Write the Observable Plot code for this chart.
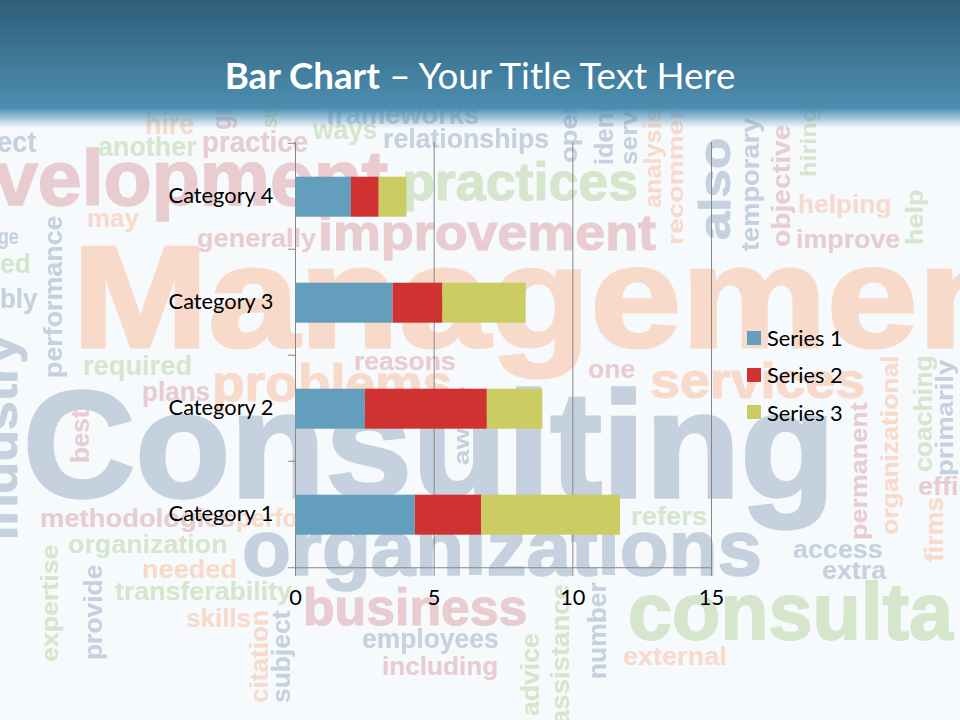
<!DOCTYPE html>
<html>
<head>
<meta charset="utf-8">
<script src="https://cdn.jsdelivr.net/npm/d3@7"></script>
<script src="https://cdn.jsdelivr.net/npm/@observablehq/plot@0.6"></script>
<style>
html,body{margin:0;padding:0;width:960px;height:720px;overflow:hidden;background:#f6fafd}
#stage{position:relative;width:960px;height:720px;overflow:hidden;font-family:Lato,sans-serif}
#cloud{position:absolute;inset:0;filter:blur(.4px)}
#cloud i{position:absolute;left:0;top:0;line-height:0;white-space:nowrap;font:normal 700 20px "Liberation Sans",sans-serif;line-height:0;
 -webkit-text-stroke:.006em currentColor;transform-origin:0 0;
 transform:translate(calc(var(--x)*1px),calc(var(--y)*1px)) rotate(var(--r,0deg)) scaleX(var(--s,1)) translateY(-.3465em)}
#cloud i.big{-webkit-text-stroke:.022em currentColor}
#cloud i.u{--r:-90deg}
.o{color:#f8dacb}.p{color:#e8ccd0}.b{color:#c5d1de}.g{color:#d5e6cc}
#head{position:absolute;left:0;top:0;width:960px;height:130px;
 background:linear-gradient(to bottom,#2f5e77 0,#4c8eb1 108px,rgba(246,250,253,0) 128px)}
#title{position:absolute;left:0;width:960px;top:51px;text-align:center;margin:0;color:#fff;font:400 36.7px/48px Lato,sans-serif}
#title b{font-weight:700}
#chart{position:absolute;left:0;top:0}
#legend{position:absolute;left:747px;top:319px;color:#000;font:21.8px/37.3px Lato,sans-serif}
#legend div{display:flex;align-items:center;height:37.3px}
#legend span{display:inline-block;width:14px;height:14px;margin-right:6px}
</style>
</head>
<body>
<div id="stage">
<div id="cloud">
<i class="big o" style="--x:72;--y:347;--w:1000;font-size:145px">Management</i>
<i class="big b" style="--x:23;--y:497;--w:812;font-size:150px">Consulting</i>
<i class="big p" style="--x:-6;--y:205;--w:394;font-size:78px">velopment</i>
<i class="big g" style="--x:402;--y:200;--w:236;font-size:54px">practices</i>
<i class="big p" style="--x:318;--y:250;--w:338;font-size:50px">improvement</i>
<i class="big b" style="--x:242;--y:575;--w:520;font-size:78px">organizations</i>
<i class="big g" style="--x:628;--y:640;--w:325;font-size:80px">consulta</i>
<i class="big p" style="--x:303;--y:625;--w:224;font-size:52px">business</i>
<i class="big o" style="--x:212;--y:401;--w:240;font-size:52px">problems</i>
<i class="big o" style="--x:650;--y:398;--w:215;font-size:50px">services</i>
<i class="b" style="--x:-3;--y:152;--w:39;font-size:30px">ect</i>
<i class="g" style="--x:98;--y:157;--w:99;font-size:28px">another</i>
<i class="o" style="--x:145;--y:134;--w:49;font-size:29px">hire</i>
<i class="p" style="--x:202;--y:152;--w:106;font-size:30px">practice</i>
<i class="g" style="--x:313;--y:140;--w:65;font-size:28px">ways</i>
<i class="b" style="--x:326;--y:125;--w:153;font-size:28px">frameworks</i>
<i class="b" style="--x:383;--y:148;--w:166;font-size:27px">relationships</i>
<i class="o" style="--x:87;--y:227;--w:52;font-size:26px">may</i>
<i class="p" style="--x:197;--y:247;--w:119;font-size:26px">generally</i>
<i class="b" style="--x:-2;--y:245;--w:21;font-size:22px">ge</i>
<i class="g" style="--x:0;--y:274;--w:31;font-size:28px">ed</i>
<i class="b" style="--x:0;--y:309;--w:37;font-size:28px">bly</i>
<i class="g" style="--x:83;--y:376;--w:109;font-size:28px">required</i>
<i class="p" style="--x:142;--y:402;--w:68;font-size:28px">plans</i>
<i class="p" style="--x:354;--y:370;--w:102;font-size:26px">reasons</i>
<i class="p" style="--x:588;--y:378;--w:47;font-size:26px">one</i>
<i class="p" style="--x:918;--y:495;--w:125;font-size:26px">efficiency</i>
<i class="b" style="--x:793;--y:558;--w:90;font-size:26px">access</i>
<i class="b" style="--x:822;--y:579;--w:64;font-size:26px">extra</i>
<i class="o" style="--x:623;--y:665;--w:104;font-size:26px">external</i>
<i class="g" style="--x:631;--y:525;--w:76;font-size:26px">refers</i>
<i class="p" style="--x:382;--y:675;--w:116;font-size:25px">including</i>
<i class="b" style="--x:362;--y:648;--w:137;font-size:27px">employees</i>
<i class="p" style="--x:40;--y:527;--w:195;font-size:25px">methodologies</i>
<i class="o" style="--x:236;--y:527;--w:62;font-size:25px">perfo</i>
<i class="g" style="--x:68;--y:553;--w:160;font-size:26px">organization</i>
<i class="o" style="--x:142;--y:578;--w:95;font-size:26px">needed</i>
<i class="g" style="--x:115;--y:600;--w:177;font-size:26px">transferability</i>
<i class="o" style="--x:186;--y:627;--w:65;font-size:26px">skills</i>
<i class="o" style="--x:798;--y:213;--w:93;font-size:26px">helping</i>
<i class="p" style="--x:796;--y:248;--w:104;font-size:25px">improve</i>
<i class="u p" style="--x:232;--y:130;--w:80;font-size:28px">growth</i>
<i class="u g" style="--x:278;--y:128;--w:70;font-size:22px">success</i>
<i class="u b" style="--x:62;--y:378;--w:163;font-size:26px">performance</i>
<i class="u b big" style="--x:18;--y:540;--w:205;font-size:48px">industry</i>
<i class="u p" style="--x:89;--y:463;--w:53;font-size:25px">best</i>
<i class="u b" style="--x:470;--y:465;--w:78;font-size:22px">aware</i>
<i class="u p" style="--x:867;--y:540;--w:138;font-size:24px">permanent</i>
<i class="u o" style="--x:898;--y:535;--w:180;font-size:24px">organizational</i>
<i class="u g" style="--x:932;--y:472;--w:117;font-size:25px">coaching</i>
<i class="u b" style="--x:953;--y:476;--w:116;font-size:23px">primarily</i>
<i class="u o" style="--x:943;--y:562;--w:65;font-size:25px">firms</i>
<i class="u b" style="--x:606;--y:679;--w:97;font-size:25px">number</i>
<i class="u g" style="--x:569;--y:725;--w:141;font-size:25px">assistance</i>
<i class="u g" style="--x:539;--y:716;--w:83;font-size:25px">advice</i>
<i class="u g" style="--x:58;--y:662;--w:117;font-size:24px">expertise</i>
<i class="u b" style="--x:102;--y:660;--w:95;font-size:25px">provide</i>
<i class="u o" style="--x:268;--y:703;--w:93;font-size:25px">citation</i>
<i class="u b" style="--x:290;--y:703;--w:93;font-size:25px">subject</i>
<i class="u b" style="--x:577;--y:163;--w:65;font-size:24px">open</i>
<i class="u b" style="--x:613;--y:165;--w:90;font-size:26px">identify</i>
<i class="u b" style="--x:637;--y:165;--w:105;font-size:24px">services</i>
<i class="u o" style="--x:661;--y:208;--w:100;font-size:24px">analysis</i>
<i class="u o" style="--x:684;--y:245;--w:160;font-size:22px">recommend</i>
<i class="u b big" style="--x:730;--y:240;--w:102;font-size:44px">also</i>
<i class="u b" style="--x:759;--y:251;--w:133;font-size:25px">temporary</i>
<i class="u p" style="--x:790;--y:247;--w:122;font-size:25px">objective</i>
<i class="u g" style="--x:817;--y:177;--w:70;font-size:22px">hiring</i>
<i class="u g" style="--x:923;--y:245;--w:55;font-size:24px">help</i>
</div>
<div id="head"></div>
<h1 id="title"><b>Bar Chart</b> – Your Title Text Here</h1>
<div id="chart"></div>
<div id="legend"></div>
</div>
<script>
const categories = ["Category 4", "Category 3", "Category 2", "Category 1"];
const seriesNames = ["Series 1", "Series 2", "Series 3"];
const series1 = [2, 3.5, 2.5, 4.3];
const series2 = [1, 1.8, 4.4, 2.4];
const series3 = [1, 3, 2, 5];
const xTicks = [0, 5, 10, 15];
const palette = ["#639ebc", "#cf3230", "#cbcc61"];

const rows = categories.flatMap((category, i) => [
  {category, series: seriesNames[0], value: series1[i]},
  {category, series: seriesNames[1], value: series2[i]},
  {category, series: seriesNames[2], value: series3[i]}
]);

document.querySelectorAll("#cloud i").forEach(el => {
  const w = parseFloat(el.style.getPropertyValue("--w"));
  el.style.setProperty("--s", w / el.offsetWidth);
});

const axisGray = "#868686";
const plotH = 426, bandStep = plotH / categories.length;
const tickOut = 0.26; // tick length outside the axis, in x units

const chart = Plot.plot({
  width: 960, height: 720,
  marginLeft: 295, marginRight: 249, marginTop: 142, marginBottom: 152,
  style: {background: "transparent", fontFamily: "Lato, sans-serif", fontSize: "21.8px", color: "#000"},
  x: {domain: [0, 15]},
  y: {domain: categories, paddingInner: 0.625, paddingOuter: 0.3125},
  color: {domain: seriesNames, range: palette},
  marks: [
    Plot.ruleX(xTicks, {stroke: axisGray, strokeOpacity: 1}),
    Plot.ruleY(categories, {y: d => d, x1: -tickOut, x2: 0, dy: -bandStep / 2, stroke: axisGray}),
    Plot.ruleY(categories.slice(-1), {y: d => d, x1: -tickOut, x2: 15, dy: bandStep / 2, stroke: axisGray}),
    Plot.barX(rows, Plot.stackX({y: "category", x: "value", fill: "series", order: seriesNames, dx: 0.5, dy: 0.7})),
    Plot.axisX({ticks: xTicks, tickSize: 8, tickPadding: 13, stroke: axisGray, fill: "#000", label: null, tickFormat: d => d}),
    Plot.axisY({tickSize: 0, tickPadding: 22, fill: "#000", label: null})
  ]
});
document.getElementById("chart").append(chart);

const legend = document.getElementById("legend");
seriesNames.forEach((name, i) => {
  const row = document.createElement("div");
  const sw = document.createElement("span");
  sw.style.background = palette[i];
  row.append(sw, document.createTextNode(name));
  legend.append(row);
});
</script>
</body>
</html>
